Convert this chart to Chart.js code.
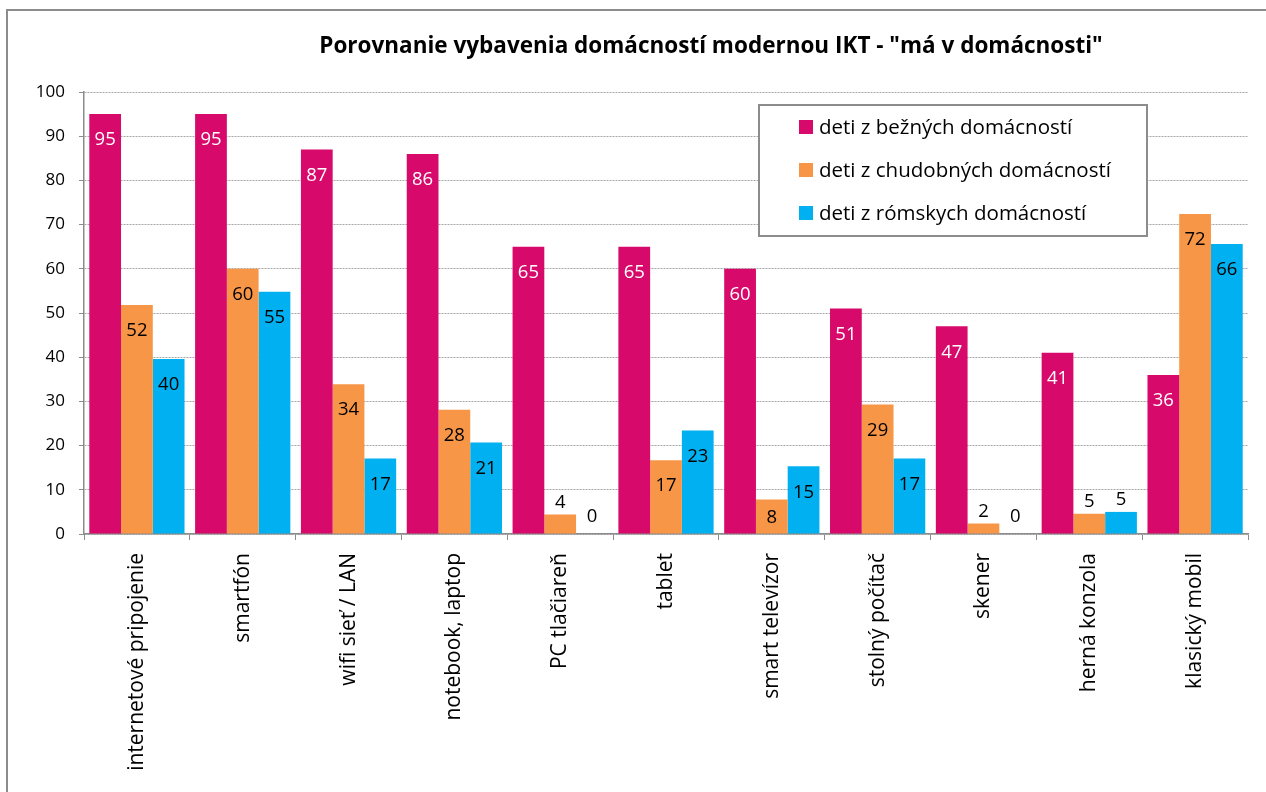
<!DOCTYPE html>
<html><head><meta charset="utf-8">
<script src="https://cdn.jsdelivr.net/npm/chart.js@4"></script>
<style>
html,body{margin:0;padding:0;background:#fff;}
#wrap{position:absolute;left:0;top:0;width:1266px;height:792px;overflow:hidden;}
#frame{position:absolute;left:6px;top:9px;width:1262px;height:790px;border-left:2px solid #8c8c8c;border-top:2px solid #8c8c8c;}
canvas{position:absolute;left:0;top:0;}
</style></head><body>
<div id="wrap"><div id="frame"></div><canvas id="c" width="1266" height="792"></canvas></div>
<script>
const chartTitle = 'Porovnanie vybavenia domácností modernou IKT - "má v domácnosti"';
const categories = ['internetové pripojenie','smartfón','wifi sieť / LAN','notebook, laptop','PC tlačiareň','tablet','smart televízor','stolný počítač','skener','herná konzola','klasický mobil'];
const seriesNames = ['deti z bežných domácností','deti z chudobných domácností','deti z rómskych domácností'];
const seriesColors = ['#d70a6b','#f79646','#00b0f0'];
const regularValues = [95,95,87,86,65,65,60,51,47,41,36];
const poorValues = [51.8,60,33.9,28.1,4.4,16.7,7.8,29.3,2.4,4.6,72.4];
const romaValues = [39.6,54.8,17.1,20.7,0,23.4,15.3,17.1,0,5.0,65.6];
const yTicks = [0,10,20,30,40,50,60,70,80,90,100];

const seriesValues = [regularValues, poorValues, romaValues];

const labelPlugin = {
  id: 'barLabels',
  afterDatasetsDraw(chart) {
    const ctx = chart.ctx;
    ctx.save();
    ctx.font = '18.5px "Open Sans"';
    ctx.textAlign = 'center';
    ctx.textBaseline = 'middle';
    chart.data.datasets.forEach((ds, di) => {
      const meta = chart.getDatasetMeta(di);
      meta.data.forEach((bar, i) => {
        const v = ds.data[i];
        const h = bar.base - bar.y;
        let cy, color;
        if (h < 28) {
          cy = bar.y - (v === 0 ? 17 : 12);
          color = '#000';
        } else {
          cy = Math.min(bar.y + 26, bar.base - 16);
          color = di === 0 ? '#fff' : '#000';
        }
        ctx.fillStyle = color;
        ctx.fillText(String(Math.round(v)), bar.x, cy);
      });
    });
    ctx.restore();
  }
};

const decorPlugin = {
  id: 'decor',
  afterDraw(chart) {
    const ctx = chart.ctx;
    ctx.save();
    ctx.font = 'bold 22.5px "Open Sans"';
    ctx.fillStyle = '#000';
    ctx.textAlign = 'center';
    ctx.textBaseline = 'middle';
    ctx.fillText(chartTitle, 711, 47);
    const bx = 759, by = 105, bw = 388, bh = 131;
    ctx.fillStyle = '#fff';
    ctx.fillRect(bx, by, bw, bh);
    ctx.strokeStyle = '#8c8c8c';
    ctx.lineWidth = 2;
    ctx.strokeRect(bx, by, bw, bh);
    ctx.font = '20.5px "Open Sans"';
    ctx.textAlign = 'left';
    chart.data.datasets.forEach((ds, i) => {
      const cy = 127 + i * 43;
      ctx.fillStyle = ds.backgroundColor;
      ctx.fillRect(799, cy - 7, 14, 14);
      ctx.fillStyle = '#000';
      ctx.fillText(ds.label, 819, cy + 1);
    });
    ctx.restore();
  }
};

new Chart(document.getElementById('c'), {
  type: 'bar',
  data: {
    labels: categories,
    datasets: seriesNames.map((name, i) => ({
      label: name,
      data: seriesValues[i],
      backgroundColor: seriesColors[i],
      borderWidth: 0,
      categoryPercentage: 0.9,
      barPercentage: 1.0
    }))
  },
  options: {
    responsive: false,
    devicePixelRatio: 1,
    animation: false,
    layout: { padding: { left: 0, right: 18, top: 92, bottom: 0 } },
    plugins: { legend: { display: false }, tooltip: { enabled: false }, title: { display: false } },
    scales: {
      x: {
        afterFit(scale) { scale.height = 258; },
        grid: { drawOnChartArea: false, drawTicks: true, tickLength: 6, color: '#8c8c8c', offset: true },
        border: { display: true, color: '#8c8c8c', width: 1.5 },
        ticks: { minRotation: 90, maxRotation: 90, autoSkip: false, padding: 13, color: '#000', font: { family: 'Open Sans', size: 21 } }
      },
      y: {
        min: 0, max: 100,
        afterFit(scale) { scale.width = 84; },
        afterBuildTicks(scale) { scale.ticks = yTicks.map(v => ({ value: v })); },
        grid: { color: '#a6a6a6', lineWidth: 1, tickLength: 5, tickColor: '#8c8c8c', tickBorderDash: [] },
        border: { display: true, color: '#8c8c8c', width: 1.5, dash: [2, 1] },
        ticks: { padding: 14, color: '#000', font: { family: 'Open Sans', size: 17 } }
      }
    }
  },
  plugins: [labelPlugin, decorPlugin]
});
</script>
</body></html>
